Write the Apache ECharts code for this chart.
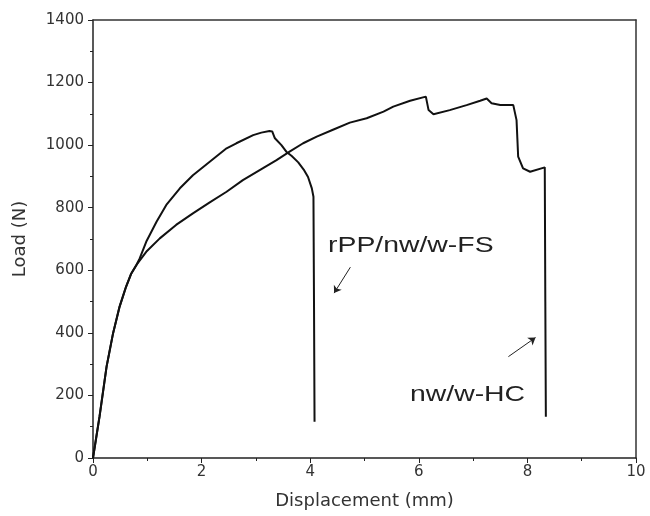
<!DOCTYPE html>
<html lang="en">
  <head>
    <meta charset="UTF-8" />
    <title>Load vs displacement</title>
    <script src="https://cdn.jsdelivr.net/npm/echarts@6/dist/echarts.min.js"></script>
    <style>
      html, body { margin: 0; padding: 0; background: #fff; }
      #main { width: 650px; height: 516px; }
    </style>
  </head>
  <body>
    <div id="main"></div>
    <script>
      // rPP/nw/w-FS curve
      var fsX = [0, 0.12, 0.25, 0.37, 0.49, 0.61, 0.7, 0.8, 0.86, 0.98, 1.17, 1.35, 1.6, 1.84, 2.15, 2.46, 2.64, 2.95, 3.1, 3.25, 3.3, 3.35, 3.47, 3.56, 3.66, 3.78, 3.88, 3.96, 4.03, 4.06, 4.07, 4.08];
      var fsY = [0, 132, 292, 399, 484, 548, 588, 617, 638, 691, 755, 809, 862, 904, 947, 990, 1006, 1032, 1040, 1045, 1044, 1022, 1000, 979, 965, 945, 922, 898, 862, 835, 500, 116];
      // nw/w-HC curve
      var hcX = [0, 0.12, 0.25, 0.37, 0.49, 0.61, 0.7, 0.8, 0.98, 1.23, 1.53, 1.84, 2.15, 2.46, 2.76, 3.07, 3.38, 3.62, 3.87, 4.12, 4.43, 4.73, 5.04, 5.35, 5.53, 5.84, 6.13, 6.18, 6.27, 6.57, 6.88, 7.13, 7.25, 7.34, 7.5, 7.74, 7.8, 7.83, 7.92, 8.05, 8.32, 8.33, 8.34];
      var hcY = [0, 132, 292, 399, 484, 548, 588, 617, 659, 702, 745, 782, 817, 851, 888, 920, 952, 979, 1006, 1027, 1050, 1072, 1086, 1107, 1123, 1142, 1155, 1112, 1099, 1112, 1128, 1142, 1149, 1134, 1128, 1128, 1080, 963, 926, 915, 929, 500, 132];

      function pairs(xs, ys) {
        return xs.map(function (x, i) { return [x, ys[i]]; });
      }

      var font = "DejaVu Sans, sans-serif";
      var noteFont = "Liberation Sans, Arial, sans-serif";
      var myChart = echarts.init(document.getElementById("main"));

      var option = {
        animation: false,
        backgroundColor: "#fff",
        grid: { left: 93, right: 14, top: 20, bottom: 58 },
        xAxis: [
          {
            type: "value",
            min: 0,
            max: 10,
            interval: 2,
            name: "Displacement (mm)",
            nameLocation: "middle",
            nameGap: 34,
            nameTextStyle: { fontFamily: font, fontSize: 18, color: "#333" },
            axisLine: { lineStyle: { color: "#222", width: 1.5 } },
            axisTick: { length: 5, lineStyle: { color: "#222" } },
            minorTick: { show: true, splitNumber: 2, length: 3, lineStyle: { color: "#222" } },
            axisLabel: { fontFamily: font, fontSize: 15, color: "#333", margin: 7 },
            splitLine: { show: false }
          },
          {
            type: "value",
            position: "top",
            min: 0,
            max: 10,
            interval: 2,
            axisLine: { show: true, onZero: false, lineStyle: { color: "#333", width: 1.5 } },
            axisTick: { show: false },
            axisLabel: { show: false },
            splitLine: { show: false }
          }
        ],
        yAxis: [
          {
            type: "value",
            min: 0,
            max: 1400,
            interval: 200,
            name: "Load (N)",
            nameLocation: "middle",
            nameGap: 64,
            nameTextStyle: { fontFamily: font, fontSize: 18, color: "#333" },
            axisLine: { show: true, lineStyle: { color: "#222", width: 1.5 } },
            axisTick: { show: true, length: 5, lineStyle: { color: "#222" } },
            minorTick: { show: true, splitNumber: 2, length: 3, lineStyle: { color: "#222" } },
            axisLabel: {
              fontFamily: font,
              fontSize: 15,
              color: "#333",
              margin: 9,
              formatter: function (v) { return String(v); }
            },
            splitLine: { show: false }
          },
          {
            type: "value",
            position: "right",
            min: 0,
            max: 1400,
            interval: 200,
            axisLine: { show: true, onZero: false, lineStyle: { color: "#333", width: 1.5 } },
            axisTick: { show: false },
            axisLabel: { show: false },
            splitLine: { show: false }
          }
        ],
        series: [
          {
            name: "rPP/nw/w-FS",
            type: "line",
            data: pairs(fsX, fsY),
            showSymbol: false,
            lineStyle: { color: "#111", width: 2 },
            markLine: {
              silent: true,
              symbol: ["none", "arrow"],
              symbolSize: 7,
              label: { show: false },
              lineStyle: { color: "#222", width: 1, type: "solid" },
              data: [[{ coord: [4.74, 610] }, { coord: [4.44, 527] }]]
            }
          },
          {
            name: "nw/w-HC",
            type: "line",
            data: pairs(hcX, hcY),
            showSymbol: false,
            lineStyle: { color: "#111", width: 2 },
            markLine: {
              silent: true,
              symbol: ["none", "arrow"],
              symbolSize: 7,
              label: { show: false },
              lineStyle: { color: "#222", width: 1, type: "solid" },
              data: [[{ coord: [7.65, 324] }, { coord: [8.15, 385] }]]
            }
          }
        ],
        graphic: [
          {
            type: "text",
            x: 328,
            y: 235,
            scaleX: 1.29,
            style: { text: "rPP/nw/w-FS", font: "22px " + noteFont, fill: "#222" }
          },
          {
            type: "text",
            x: 410,
            y: 384,
            scaleX: 1.29,
            style: { text: "nw/w-HC", font: "22px " + noteFont, fill: "#222" }
          }
        ]
      };

      myChart.setOption(option);
    </script>
  </body>
</html>
